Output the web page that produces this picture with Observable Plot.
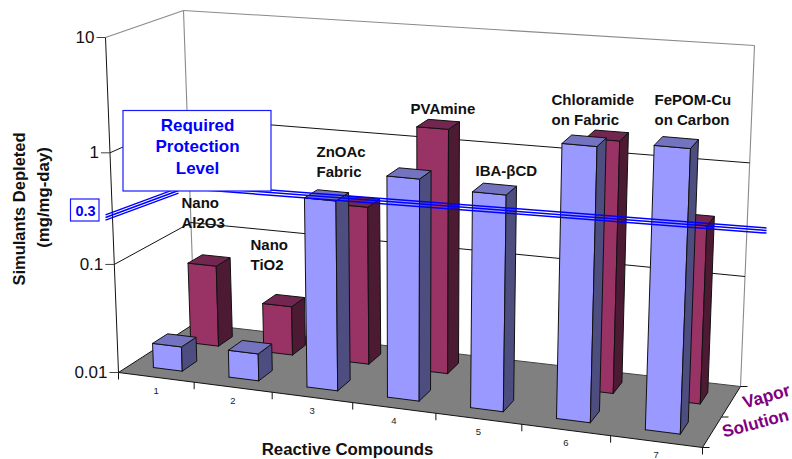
<!DOCTYPE html>
<html>
<head>
<meta charset="utf-8">
<script src="https://cdn.jsdelivr.net/npm/d3@7"></script>
<script src="https://cdn.jsdelivr.net/npm/@observablehq/plot@0.6"></script>
<style>html,body{margin:0;padding:0;background:#fff}</style>
</head>
<body>
<div id="chart"></div>
<script>
// ---- data ----
const categories = ["1", "2", "3", "4", "5", "6", "7"];
const solution = [0.0169, 0.0178, 0.51, 0.93, 0.8, 2.4, 2.7];
const vapor = [0.059, 0.029, 0.29, 1.67, null, 1.75, 0.38];
const valueTicks = [10, 1, 0.1, 0.01];
const compoundLabels = ["Nano\nAl2O3", "Nano\nTiO2", "ZnOAc\nFabric", "PVAmine", "IBA-βCD", "Chloramide\non Fabric", "FePOM-Cu\non Carbon"];
const compoundLabelX = [181, 250, 316, 410, 475, 551, 654];
const compoundLabelY = [193, 235, 142, 99, 161, 90, 90];

// ---- perspective box of the 3-D chart (chart space, corners) ----
const corners = {
  flb: [118, 372], frb: [702, 447], blb: [194, 323], brb: [740, 386],
  flt: [105, 37], frt: [716, 87], blt: [183, 10], brt: [754, 45]
};
const warp = (t, r) => t / (t + (1 - t) * r);
const mix = (a, b, t) => [a[0] + (b[0] - a[0]) * t, a[1] + (b[1] - a[1]) * t];
const level = (value) => (Math.log10(value) + 2) / 3;
function project(u, v, w) {
  const a = warp(u, 1.12), c = warp(w, 1.05);
  const bottom = mix(mix(corners.flb, corners.frb, a), mix(corners.blb, corners.brb, a), v);
  const top = mix(mix(corners.flt, corners.frt, a), mix(corners.blt, corners.brt, a), v);
  return mix(bottom, top, c);
}
const pt = (u, v, w) => { const [x, y] = project(u, v, w); return {x, y}; };

// ---- bar faces ----
const halfWidth = 0.0275;
function faces(values, v0, v1, key) {
  const out = {front: [], side: [], top: []};
  values.forEach((val, i) => {
    if (val == null) return;
    const c = (i + 0.5) / categories.length, u0 = c - halfWidth, u1 = c + halfWidth, w = level(val);
    const ring = (name, pts) => [...pts, pts[0]].forEach(p => out[name].push({...p, z: key + i}));
    ring("front", [pt(u0, v0, 0), pt(u1, v0, 0), pt(u1, v0, w), pt(u0, v0, w)]);
    ring("side", [pt(u1, v0, 0), pt(u1, v1, 0), pt(u1, v1, w), pt(u1, v0, w)]);
    ring("top", [pt(u0, v0, w), pt(u1, v0, w), pt(u1, v1, w), pt(u0, v1, w)]);
  });
  return out;
}
const vaporFaces = faces(vapor, 0.66, 0.85, "v");
const solutionFaces = faces(solution, 0.16, 0.36, "s");

function barMarks(f, front, side, top) {
  const o = {x: "x", y: "y", z: "z", stroke: "#111", strokeWidth: 1, strokeLinejoin: "round"};
  return [
    Plot.line(f.front, {...o, fill: front}),
    Plot.line(f.side, {...o, fill: side}),
    Plot.line(f.top, {...o, fill: top})
  ];
}
const seg = (a, b) => ({x1: a.x, y1: a.y, x2: b.x, y2: b.y});

// walls and grid
const wallLines = [
  seg(pt(0, 1, 1), pt(1, 1, 1)), seg(pt(0, 0, 1), pt(0, 1, 1)),
  seg(pt(0, 1, 0), pt(0, 1, 1)), seg(pt(1, 1, 0), pt(1, 1, 1))
];
const gridLevels = valueTicks.filter(d => d !== 10 && d !== 0.01).map(level);
const gridLines = gridLevels.flatMap(w => [seg(pt(0, 0, w), pt(0, 1, w)), seg(pt(0, 1, w), pt(1, 1, w))]);
const floor = [pt(0, 0, 0), pt(1, 0, 0), pt(1, 1, 0), pt(0, 1, 0), pt(0, 0, 0)];
const floorEdges = [seg(pt(0, 0, 0), pt(1, 0, 0)), seg(pt(1, 0, 0), pt(1, 1, 0)), seg(pt(0, 0, 0), pt(0, 1, 0)), seg(pt(0, 0, 0), pt(0, 0, 1))];
const floorBack = [seg(pt(0, 1, 0), pt(1, 1, 0))];

const valueTickRows = valueTicks.map(d => ({label: String(d), ...pt(0, 0, level(d))}));
const catTicks = d3.range(categories.length + 1).map(i => pt(i / categories.length, 0, 0));
const catLabels = categories.map((c, i) => ({label: c, ...pt((i + 0.5) / categories.length, 0, 0)}));
const depthTicks = [0, 0.5, 1].map(v => pt(1, v, 0));

// hand-drawn annotation, as placed on the slide
const requiredLeft = [[105, 217], [178, 190]];
const requiredRight = [[178, 185], [766, 230]];
const offsets = [-2.6, 0, 2.6];
const requiredLines = offsets.flatMap(o => [requiredLeft, requiredRight].map(([a, b]) => ({x1: a[0], y1: a[1] + o, x2: b[0], y2: b[1] + o})));

const font = "Liberation Sans, Arial, sans-serif";
const blue = "#1a1aff";

const chart = Plot.plot({
  width: 792, height: 459,
  marginTop: 0, marginRight: 0, marginBottom: 0, marginLeft: 0,
  x: {domain: [0, 792], range: [0, 792], axis: null},
  y: {domain: [0, 459], range: [0, 459], axis: null},
  style: {background: "#fff", fontFamily: font},
  marks: [
    Plot.link(wallLines, {x1: "x1", y1: "y1", x2: "x2", y2: "y2", stroke: "#8a8a8a", strokeWidth: 1.1}),
    Plot.link(gridLines, {x1: "x1", y1: "y1", x2: "x2", y2: "y2", stroke: "#111", strokeWidth: 1}),
    Plot.line(floor, {x: "x", y: "y", fill: "#808080", stroke: "none"}),
    Plot.link(floorBack, {x1: "x1", y1: "y1", x2: "x2", y2: "y2", stroke: "#444", strokeWidth: 1}),
    Plot.link(floorEdges, {x1: "x1", y1: "y1", x2: "x2", y2: "y2", stroke: "#111", strokeWidth: 1}),
    Plot.link(valueTickRows, {x1: d => d.x - 9, y1: "y", x2: "x", y2: "y", stroke: "#444"}),
    Plot.link(catTicks, {x1: "x", y1: "y", x2: "x", y2: d => d.y + 7, stroke: "#111"}),
    Plot.link(depthTicks, {x1: "x", y1: "y", x2: d => d.x + 7, y2: "y", stroke: "#111"}),
    ...barMarks(vaporFaces, "#993366", "#4d1a33", "#732650"),
    ...barMarks(solutionFaces, "#9999ff", "#4d4d80", "#7373bf"),
    Plot.link(requiredLines, {x1: "x1", y1: "y1", x2: "x2", y2: "y2", stroke: "#0000ff", strokeWidth: 1.5}),
    Plot.rect([{x1: 123, x2: 271, y1: 110.5, y2: 191}], {x1: "x1", x2: "x2", y1: "y1", y2: "y2", fill: "#fff", stroke: blue, strokeWidth: 1.2}),
    Plot.rect([{x1: 70.5, x2: 99, y1: 199, y2: 221}], {x1: "x1", x2: "x2", y1: "y1", y2: "y2", fill: "#fff", stroke: blue, strokeWidth: 1.2}),
    Plot.text(["Required\nProtection\nLevel"], {x: () => 197, y: () => 145, text: d => d, fontFamily: font, fontWeight: "bold", fontSize: 17, fill: "#0000ff", lineHeight: 1.26}),
    Plot.text(["0.3"], {x: () => 85, y: () => 210.5, text: d => d, fontFamily: font, fontWeight: "bold", fontSize: 14.5, fill: "#0000ff"}),
    Plot.text(valueTickRows, {x: "x", y: "y", text: "label", dx: -11, textAnchor: "end", fontFamily: font, fontSize: 17, fill: "#111"}),
    Plot.text(catLabels, {x: "x", y: "y", text: "label", dy: 13.5, fontFamily: font, fontSize: 9.5, fill: "#222"}),
    Plot.text(compoundLabels, {x: (d, i) => compoundLabelX[i], y: (d, i) => compoundLabelY[i], text: d => d, textAnchor: "start", lineAnchor: "top", fontFamily: font, fontWeight: "bold", fontSize: 15, fill: "#111", lineHeight: 1.33}),
    Plot.text(["Reactive Compounds"], {x: () => 347, y: () => 449.5, text: d => d, fontFamily: font, fontWeight: "bold", fontSize: 16.8, fill: "#111"}),
    Plot.text(["Simulants Depleted"], {x: () => 19.5, y: () => 208.5, text: d => d, rotate: -90, fontFamily: font, fontWeight: "bold", fontSize: 16.5, fill: "#111"}),
    Plot.text(["(mg/mg-day)"], {x: () => 43, y: () => 197, text: d => d, rotate: -90, fontFamily: font, fontWeight: "bold", fontSize: 16.8, fill: "#111"}),
    Plot.text(["Vapor"], {x: () => 766, y: () => 396, text: d => d, rotate: -16, fontFamily: font, fontWeight: "bold", fontSize: 17.5, fill: "#800080"}),
    Plot.text(["Solution"], {x: () => 755, y: () => 423, text: d => d, rotate: -15, fontFamily: font, fontWeight: "bold", fontSize: 17, fill: "#800080"})
  ]
});
document.getElementById("chart").appendChild(chart);
</script>
</body>
</html>
